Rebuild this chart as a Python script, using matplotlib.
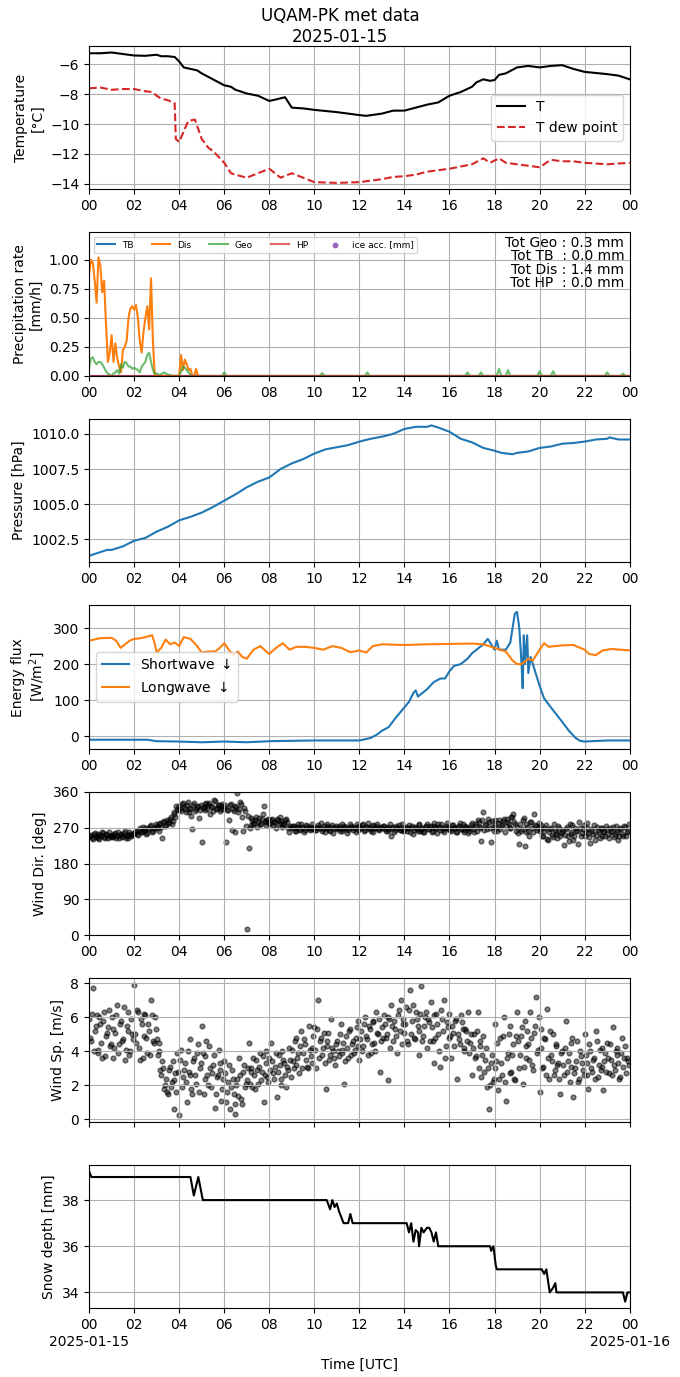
import numpy as np
import matplotlib
matplotlib.use('Agg')
import matplotlib.pyplot as plt

# ---- data (hours since 2025-01-15 00 UTC) ----
temp_t = [0, 0.5, 1.0, 1.5, 2.0, 2.5, 3.0, 3.2, 3.5, 3.8, 4.0, 4.2, 4.5, 4.8, 5.0, 5.5,
          6.0, 6.3, 6.5, 7.0, 7.5, 8.0, 8.3, 8.7, 9.0, 9.5, 10.0, 11.0, 12.0, 12.3, 13.0,
          13.5, 14.0, 14.5, 15.0, 15.5, 16.0, 16.5, 17.0, 17.2, 17.5, 17.8, 18.0, 18.2,
          18.5, 19.0, 19.5, 20.0, 20.5, 21.0, 21.5, 22.0, 23.0, 23.5, 24.0]
temp = [-5.25, -5.25, -5.2, -5.3, -5.4, -5.42, -5.35, -5.45, -5.45, -5.5, -5.8, -6.2,
        -6.3, -6.4, -6.6, -7.0, -7.4, -7.5, -7.7, -7.95, -8.1, -8.45, -8.35, -8.2, -8.9,
        -8.95, -9.05, -9.2, -9.4, -9.45, -9.3, -9.1, -9.1, -8.9, -8.7, -8.55, -8.1, -7.85,
        -7.5, -7.2, -7.0, -7.1, -7.05, -6.7, -6.6, -6.2, -6.1, -6.2, -6.1, -6.05, -6.3,
        -6.5, -6.65, -6.75, -7.0]

dew_t = [0, 0.5, 1.0, 1.5, 2.0, 2.5, 2.8, 3.0, 3.2, 3.5, 3.8, 3.85, 4.0, 4.2, 4.4, 4.7,
         5.0, 5.3, 5.5, 6.0, 6.3, 6.5, 7.0, 7.5, 8.0, 8.5, 9.0, 9.5, 10.0, 11.0, 12.0,
         12.5, 13.0, 13.5, 14.0, 14.5, 15.0, 15.5, 16.0, 16.5, 17.0, 17.5, 17.8, 18.2,
         18.5, 19.0, 19.5, 20.0, 20.5, 21.0, 21.5, 22.0, 23.0, 24.0]
dew = [-7.6, -7.55, -7.7, -7.65, -7.65, -7.8, -7.85, -8.1, -8.3, -8.4, -8.6, -11.0,
       -11.2, -10.5, -9.8, -9.7, -11.0, -11.6, -11.8, -12.6, -13.3, -13.4, -13.6, -13.3,
       -13.0, -13.6, -13.3, -13.6, -13.9, -13.95, -13.9, -13.8, -13.7, -13.55, -13.5,
       -13.4, -13.2, -13.1, -13.0, -12.85, -12.7, -12.3, -12.6, -12.3, -12.6, -12.7,
       -12.8, -12.9, -12.4, -12.5, -12.5, -12.6, -12.7, -12.6]

# precipitation, 5-min steps for the first 5 hours
prec_t = [i * 5 / 60 for i in range(61)]
dis = [0.88, 1.00, 0.97, 0.82, 0.63, 1.02, 0.95, 0.72, 0.82, 0.45, 0.12, 0.20,
       0.35, 0.12, 0.28, 0.15, 0.08, 0.03, 0.22, 0.25, 0.30, 0.50, 0.58, 0.60,
       0.57, 0.61, 0.50, 0.30, 0.20, 0.38, 0.50, 0.60, 0.40, 0.84, 0.30, 0.00,
       0.00, 0.00, 0.00, 0.00, 0.00, 0.00, 0.00, 0.00, 0.00, 0.00, 0.00, 0.00,
       0.00, 0.18, 0.05, 0.14, 0.10, 0.05, 0.06, 0.00, 0.00, 0.06, 0.00, 0.00, 0.00]
geo_early = [0.07, 0.15, 0.16, 0.12, 0.10, 0.12, 0.12, 0.10, 0.07, 0.04, 0.02, 0.01,
             0.00, 0.02, 0.03, 0.05, 0.02, 0.10, 0.07, 0.12, 0.11, 0.08, 0.08, 0.06,
             0.07, 0.06, 0.05, 0.03, 0.08, 0.10, 0.12, 0.18, 0.20, 0.12, 0.05, 0.02,
             0.02, 0.01, 0.01, 0.02, 0.03, 0.02, 0.01, 0.01, 0.00, 0.00, 0.00, 0.00,
             0.00, 0.04, 0.08, 0.07, 0.05, 0.03, 0.01, 0.00, 0.00, 0.00, 0.00, 0.00, 0.00]
geo_late_t = [5.1, 5.9, 6.0, 6.1, 10.25, 10.35, 10.45, 12.25, 12.35, 12.45, 16.7, 16.8,
              16.9, 17.3, 17.4, 17.5, 18.1, 18.2, 18.3, 18.5, 18.6, 18.7, 19.9, 20.0,
              20.1, 20.5, 20.6, 20.7, 22.9, 23.0, 23.1, 23.6, 23.7, 23.8, 24.0]
geo_late = [0.0, 0.0, 0.03, 0.0, 0.0, 0.025, 0.0, 0.0, 0.03, 0.0, 0.0, 0.03,
            0.0, 0.0, 0.03, 0.0, 0.0, 0.06, 0.0, 0.0, 0.05, 0.0, 0.0, 0.04,
            0.0, 0.0, 0.04, 0.0, 0.0, 0.03, 0.0, 0.0, 0.02, 0.0, 0.0]
zero_t = [0, 24]
zero_v = [0.0, 0.0]
ice_t = []
ice_v = []
totals = {'Geo': 0.3, 'TB': 0.0, 'Dis': 1.4, 'HP': 0.0}

pres_t = [0, 0.8, 1.0, 1.5, 2.0, 2.5, 3.0, 3.5, 4.0, 4.5, 5.0, 5.5, 6.0, 6.5, 7.0, 7.5,
          8.0, 8.5, 9.0, 9.5, 10.0, 10.5, 11.0, 11.5, 12.0, 12.5, 13.0, 13.5, 14.0,
          14.5, 15.0, 15.2, 15.5, 16.0, 16.5, 17.0, 17.5, 18.0, 18.3, 18.8, 19.0, 19.5,
          20.0, 20.5, 21.0, 21.5, 22.0, 22.5, 23.0, 23.1, 23.5, 24.0]
pres = [1001.33, 1001.75, 1001.75, 1002.0, 1002.4, 1002.6, 1003.05, 1003.4, 1003.85,
        1004.1, 1004.4, 1004.8, 1005.25, 1005.7, 1006.2, 1006.6, 1006.9, 1007.5,
        1007.9, 1008.2, 1008.6, 1008.9, 1009.05, 1009.2, 1009.45, 1009.65, 1009.8,
        1010.0, 1010.35, 1010.5, 1010.5, 1010.6, 1010.45, 1010.15, 1009.65, 1009.4,
        1009.0, 1008.8, 1008.65, 1008.55, 1008.65, 1008.75, 1009.0, 1009.1, 1009.3,
        1009.35, 1009.45, 1009.6, 1009.65, 1009.75, 1009.6, 1009.6]

sw_t = [0, 2.0, 2.6, 3.0, 4.0, 5.0, 6.0, 7.0, 8.0, 10.0, 12.0, 12.5, 12.8, 13.0, 13.3,
        13.6, 14.0, 14.2, 14.4, 14.5, 14.6, 15.0, 15.3, 15.6, 15.8, 16.0, 16.2, 16.5,
        16.8, 17.0, 17.3, 17.5, 17.7, 17.9, 18.0, 18.1, 18.2, 18.5, 18.7, 18.9, 19.0,
        19.1, 19.2, 19.25, 19.3, 19.35, 19.45, 19.5, 19.6, 19.8, 20.0, 20.2, 20.5,
        21.0, 21.3, 21.6, 21.8, 22.0, 23.0, 24.0]
sw = [-10, -10, -10, -14, -15, -17, -15, -17, -14, -12, -12, -5, 5, 15, 25, 50, 80, 95,
      120, 127, 110, 130, 150, 160, 160, 180, 195, 200, 215, 230, 245, 255, 270, 250,
      240, 265, 240, 240, 260, 340, 345, 300, 200, 133, 280, 200, 280, 175, 220, 180,
      140, 105, 80, 40, 15, -5, -13, -15, -12, -12]

lw_t = [0, 0.5, 1.0, 1.2, 1.4, 1.6, 1.8, 2.0, 2.3, 2.5, 2.8, 2.9, 3.0, 3.2, 3.4, 3.6,
        3.8, 4.0, 4.2, 4.5, 4.8, 5.0, 5.3, 5.6, 5.8, 6.0, 6.2, 6.4, 6.6, 6.8, 7.0, 7.3,
        7.6, 8.0, 8.3, 8.6, 8.9, 9.2, 9.6, 10.0, 10.4, 10.8, 11.2, 11.6, 12.0, 12.3,
        12.6, 13.0, 14.0, 15.0, 16.0, 17.0, 17.5, 18.0, 18.5, 18.8, 19.0, 19.2, 19.5,
        19.7, 20.0, 20.2, 20.4, 21.0, 21.5, 22.0, 22.2, 22.5, 22.8, 23.2, 23.6, 24.0]
lw = [265, 272, 273, 265, 245, 255, 265, 270, 272, 275, 280, 260, 232, 245, 268, 255,
      260, 250, 275, 270, 250, 232, 235, 235, 245, 258, 240, 225, 235, 220, 215, 240,
      250, 228, 245, 258, 240, 248, 248, 245, 240, 250, 245, 233, 238, 232, 250, 255,
      253, 255, 256, 257, 255, 245, 235, 210, 200, 200, 215, 210, 240, 258, 248, 252,
      253, 240, 228, 225, 238, 242, 240, 238]

# wind, 5-min samples (one row per hour) plus a second set offset by 2.5 min
wind_dir = [
    248, 252, 241, 256, 249, 245, 251, 258, 247, 253, 244, 250,
    252, 246, 257, 249, 243, 255, 250, 262, 248, 245, 253, 251,
    256, 262, 251, 268, 259, 264, 270, 257, 266, 276, 262, 268,
    274, 262, 282, 245, 286, 276, 283, 292, 279, 305, 296, 318,
    325, 312, 333, 318, 327, 309, 320, 266, 331, 316, 324, 314,
    235, 322, 329, 317, 331, 325, 312, 336, 320, 327, 318, 330,
    322, 235, 314, 328, 265, 311, 324, 358, 318, 330, 262, 312,
    15, 220, 276, 290, 282, 297, 285, 279, 292, 325, 283, 288,
    282, 290, 276, 284, 293, 278, 286, 272, 280, 292, 268, 275,
    268, 274, 262, 271, 266, 278, 270, 264, 275, 268, 272, 266,
    270, 265, 276, 268, 262, 273, 269, 278, 264, 271, 257, 270,
    266, 273, 268, 262, 275, 270, 264, 279, 268, 272, 260, 271,
    274, 268, 279, 265, 272, 270, 262, 276, 268, 273, 266, 270,
    268, 275, 262, 271, 266, 250, 272, 265, 269, 276, 263, 270,
    264, 271, 268, 258, 273, 265, 270, 262, 276, 267, 260, 272,
    280, 266, 271, 262, 274, 268, 279, 264, 270, 258, 273, 268,
    270, 262, 276, 268, 258, 273, 266, 279, 264, 271, 256, 268,
    282, 260, 275, 290, 268, 236, 310, 276, 266, 284, 235, 272,
    288, 270, 282, 266, 279, 292, 275, 285, 268, 298, 305, 280,
    272, 230, 262, 290, 224, 278, 262, 285, 268, 305, 274, 270,
    262, 276, 250, 268, 242, 258, 270, 246, 265, 255, 274, 248,
    258, 226, 266, 248, 280, 254, 240, 268, 262, 284, 250, 266,
    248, 270, 256, 232, 262, 276, 252, 265, 244, 268, 258, 250,
    266, 245, 260, 272, 252, 263, 240, 268, 255, 274, 250, 262,
]
wind_dir_b = [
    250, 244, 255, 247, 253, 242, 249, 256, 245, 251, 259, 246,
    248, 254, 243, 260, 251, 247, 256, 244, 252, 258, 249, 255,
    260, 253, 265, 258, 271, 262, 255, 268, 274, 260, 270, 278,
    268, 278, 272, 284, 275, 290, 282, 298, 287, 310, 325, 315,
    318, 330, 322, 310, 335, 316, 300, 326, 312, 322, 295, 328,
    320, 314, 332, 326, 305, 322, 340, 316, 328, 312, 324, 318,
    326, 314, 290, 330, 318, 260, 322, 310, 335, 296, 320, 275,
    300, 270, 295, 280, 288, 272, 294, 280, 305, 286, 276, 292,
    278, 292, 285, 270, 288, 298, 282, 276, 290, 283, 260, 272,
    274, 262, 268, 280, 265, 272, 260, 276, 270, 263, 278, 268,
    264, 272, 268, 281, 266, 259, 274, 270, 262, 277, 268, 273,
    270, 262, 278, 266, 272, 256, 270, 275, 264, 270, 279, 265,
    268, 276, 262, 272, 282, 266, 274, 260, 270, 279, 264, 272,
    274, 266, 270, 262, 278, 268, 260, 274, 270, 265, 278, 262,
    270, 262, 276, 268, 255, 272, 266, 278, 262, 270, 258, 274,
    266, 274, 260, 282, 268, 256, 272, 278, 263, 270, 282, 266,
    264, 276, 270, 258, 272, 282, 266, 260, 274, 268, 262, 276,
    266, 278, 262, 284, 272, 290, 264, 280, 292, 270, 286, 262,
    276, 262, 290, 274, 286, 258, 292, 280, 270, 296, 285, 262,
    256, 280, 266, 294, 258, 272, 248, 283, 260, 276, 264, 282,
    270, 248, 262, 276, 240, 266, 252, 280, 258, 244, 268, 256,
    264, 252, 272, 236, 260, 276, 248, 262, 230, 270, 256, 276,
    260, 282, 246, 266, 254, 240, 272, 258, 268, 250, 262, 274,
    254, 268, 262, 246, 274, 258, 250, 266, 248, 272, 258, 278,
]
wind_sp = [
    5.9, 4.6, 7.7, 5.2, 6.1, 4.1, 5.6, 3.6, 6.3, 4.9, 5.4, 4.3,
    6.0, 3.6, 5.1, 6.7, 4.4, 5.8, 4.7, 3.5, 5.5, 6.3, 4.0, 5.0,
    7.9, 4.5, 6.3, 3.5, 5.6, 4.9, 6.1, 3.9, 5.2, 7.0, 4.6, 6.0,
    4.7, 4.0, 2.9, 3.4, 1.8, 2.4, 1.5, 3.1, 2.2, 0.6, 2.7, 3.9,
    0.25, 4.1, 2.5, 3.3, 1.0, 2.8, 4.7, 1.5, 3.6, 2.1, 4.4, 3.0,
    5.5, 1.5, 3.7, 2.6, 4.3, 1.9, 3.2, 0.7, 2.5, 4.1, 2.9, 1.8,
    3.4, 1.0, 2.2, 0.6, 2.9, 1.5, 0.3, 2.4, 3.6, 1.2, 2.8, 1.9,
    2.3, 4.5, 3.0, 1.9, 2.6, 3.5, 2.1, 3.9, 2.8, 1.0, 3.3, 2.5,
    3.6, 4.5, 2.7, 3.1, 1.3, 3.8, 2.4, 4.0, 3.3, 1.9, 2.9, 3.5,
    4.1, 3.0, 4.8, 3.6, 2.7, 5.2, 3.9, 4.4, 3.1, 5.5, 3.7, 4.2,
    5.4, 3.0, 7.0, 4.6, 3.8, 5.1, 1.8, 4.3, 3.5, 5.9, 4.0, 3.2,
    4.6, 3.7, 5.6, 4.1, 2.1, 4.9, 3.6, 5.3, 4.4, 3.9, 4.8, 5.8,
    3.5, 5.2, 4.3, 6.0, 4.7, 5.5, 3.9, 5.8, 4.5, 6.3, 5.0, 2.8,
    5.4, 6.1, 4.8, 2.3, 5.9, 6.7, 4.6, 5.3, 3.9, 6.4, 7.0, 5.6,
    5.1, 6.6, 4.4, 7.6, 5.8, 4.8, 6.3, 5.5, 3.8, 7.8, 4.9, 6.0,
    4.2, 5.7, 6.9, 4.6, 3.3, 6.2, 5.0, 3.1, 5.9, 7.0, 4.3, 5.4,
    6.2, 3.6, 5.1, 5.8, 2.4, 4.7, 6.1, 5.3, 4.0, 5.2, 6.3, 4.5,
    2.6, 5.0, 3.7, 6.3, 4.3, 2.5, 4.9, 3.5, 1.9, 0.6, 3.3, 2.2,
    5.6, 3.4, 1.7, 4.8, 2.6, 6.0, 1.1, 3.9, 5.5, 2.8, 4.4, 2.3,
    6.3, 3.0, 4.9, 2.1, 5.8, 3.6, 4.4, 6.3, 3.2, 5.1, 7.2, 4.1,
    1.6, 5.3, 3.1, 4.7, 6.5, 2.4, 3.8, 5.0, 2.9, 4.3, 3.3, 1.5,
    4.0, 2.6, 5.8, 3.4, 2.2, 4.5, 1.3, 3.0, 4.6, 2.4, 3.7, 2.9,
    5.0, 3.3, 1.8, 4.0, 2.8, 3.6, 5.2, 2.5, 4.1, 3.1, 1.7, 3.9,
    4.5, 2.7, 3.5, 5.4, 2.9, 4.2, 3.3, 2.5, 4.8, 3.6, 2.7, 3.4,
]
wind_sp_b = [
    4.8, 6.2, 4.0, 5.5, 3.9, 6.0, 4.5, 5.8, 3.7, 5.1, 6.4, 4.4,
    5.3, 4.2, 6.1, 3.9, 5.6, 4.6, 6.6, 4.1, 5.2, 3.8, 5.9, 4.7,
    5.0, 6.4, 4.2, 5.9, 3.6, 6.2, 4.8, 5.6, 3.8, 6.1, 4.5, 5.3,
    3.8, 4.5, 2.6, 3.0, 2.0, 1.6, 2.9, 1.9, 3.4, 2.3, 1.6, 2.8,
    3.5, 1.9, 2.9, 2.2, 4.0, 2.6, 1.8, 3.4, 2.6, 3.9, 1.6, 3.3,
    3.9, 2.4, 4.6, 2.0, 3.0, 2.7, 3.8, 1.5, 2.6, 3.3, 1.1, 2.4,
    2.7, 1.6, 3.2, 1.9, 2.4, 0.9, 2.0, 1.4, 2.6, 0.9, 3.2, 2.1,
    3.0, 2.1, 2.8, 3.6, 1.8, 2.9, 3.1, 2.3, 3.7, 2.6, 4.0, 2.2,
    2.9, 3.4, 2.4, 3.9, 2.8, 3.2, 2.0, 3.5, 2.6, 3.1, 4.2, 2.5,
    3.4, 4.6, 3.2, 3.9, 4.3, 3.0, 4.7, 3.5, 3.0, 4.1, 3.3, 4.9,
    4.1, 5.3, 3.6, 4.8, 4.2, 3.3, 4.6, 5.1, 3.8, 4.2, 3.6, 4.4,
    4.0, 5.0, 3.9, 4.5, 3.4, 4.2, 5.2, 3.8, 4.6, 4.1, 5.4, 4.3,
    4.7, 4.0, 5.6, 4.9, 3.8, 5.3, 4.4, 5.7, 4.0, 5.1, 5.9, 4.6,
    4.8, 5.6, 5.0, 6.0, 4.2, 5.5, 5.8, 4.9, 6.1, 5.2, 4.4, 5.9,
    5.6, 4.6, 6.4, 5.0, 6.7, 4.7, 5.9, 5.2, 6.2, 4.6, 5.5, 6.3,
    5.9, 4.6, 5.4, 6.1, 4.8, 5.6, 4.0, 6.4, 5.2, 3.6, 5.7, 4.8,
    4.9, 5.5, 4.3, 5.9, 5.0, 4.4, 5.7, 4.2, 5.3, 4.6, 3.9, 5.0,
    4.2, 3.6, 5.2, 3.0, 4.6, 3.8, 2.8, 4.2, 3.0, 2.0, 3.8, 2.4,
    3.0, 4.5, 2.4, 3.3, 4.9, 2.2, 3.6, 5.0, 2.7, 3.8, 2.4, 4.9,
    4.6, 3.8, 5.4, 3.1, 4.3, 5.2, 3.5, 4.8, 2.9, 5.5, 3.9, 6.0,
    4.2, 3.0, 4.8, 2.6, 3.6, 5.2, 3.4, 2.6, 4.4, 3.2, 2.4, 3.9,
    3.2, 4.2, 2.8, 3.9, 3.1, 4.8, 2.7, 3.4, 2.2, 4.0, 3.3, 2.6,
    3.8, 2.6, 4.4, 3.0, 3.5, 2.4, 4.6, 3.2, 2.9, 4.2, 3.4, 2.8,
    3.6, 4.4, 2.6, 3.2, 4.0, 3.8, 2.4, 3.9, 3.1, 4.3, 3.6, 3.2,
]
wind_t = [i * 5 / 60 for i in range(len(wind_dir))]
wind_t_b = [(i * 5 + 2.5) / 60 for i in range(len(wind_dir_b))]

snow_t = [0, 0.1, 4.5, 4.65, 4.85, 5.05, 10.55, 10.7, 10.8, 10.9, 11.0, 11.1, 11.3, 11.5,
          11.6, 11.7, 14.1, 14.2, 14.3, 14.4, 14.5, 14.6, 14.65, 14.75, 14.85, 15.0, 15.1,
          15.2, 15.3, 15.4, 15.5, 17.8, 17.85, 17.95, 18.05, 18.1, 20.1, 20.2, 20.3, 20.45,
          20.6, 20.7, 20.75, 23.7, 23.8, 23.9, 24.0]
snow = [39.25, 39.0, 39.0, 38.2, 39.0, 38.0, 38.0, 37.6, 38.0, 37.7, 37.85, 37.5, 37.0,
        37.0, 37.4, 37.0, 37.0, 36.6, 37.0, 36.2, 36.7, 36.6, 36.0, 36.8, 36.6, 36.8, 36.8,
        36.6, 36.2, 36.6, 36.0, 36.0, 35.8, 36.0, 35.2, 35.0, 35.0, 34.8, 35.0, 34.0, 34.2,
        34.4, 34.0, 34.0, 33.6, 34.0, 34.0]

hour_ticks = list(range(0, 25, 2))
day_labels = ['2025-01-15', '2025-01-16']

# ---- figure ----
fig, axs = plt.subplots(7, 1, figsize=(6.8, 13.77), dpi=100)
fig.subplots_adjust(left=0.131, right=0.926, top=0.9666, bottom=0.050, hspace=0.30)
fig.suptitle('UQAM-PK met data\n2025-01-15', fontsize=12, y=0.995)

ax = axs[0]
ax.plot(temp_t, temp, color='black', label='T')
ax.plot(dew_t, dew, color='#d62728', ls='--', label='T dew point')
ax.set_ylabel('Temperature\n[°C]')
ax.legend(loc='center right')

ax = axs[1]
ax.plot(zero_t, zero_v, color='tab:blue', label='TB')
ax.plot(prec_t, dis, color='tab:orange', label='Dis')
ax.plot(prec_t + geo_late_t, geo_early + geo_late, color='tab:green', alpha=0.7, label='Geo')
ax.plot(zero_t, zero_v, color='tab:red', alpha=0.7, label='HP')
ax.scatter(ice_t, ice_v, color='tab:purple', s=10, label='ice acc. [mm]')
ax.set_ylim(0, 1.235)
ax.set_ylabel('Precipitation rate\n[mm/h]')
ax.legend(loc='upper left', ncol=5, fontsize=6.5)
txt = '\n'.join([f"Tot Geo : {totals['Geo']:.1f} mm",
                 f"Tot TB  : {totals['TB']:.1f} mm",
                 f"Tot Dis : {totals['Dis']:.1f} mm",
                 f"Tot HP  : {totals['HP']:.1f} mm"])
ax.text(0.99, 0.975, txt, transform=ax.transAxes, ha='right', va='top', linespacing=0.95)

ax = axs[2]
ax.plot(pres_t, pres, color='tab:blue')
ax.set_ylabel('Pressure [hPa]')

ax = axs[3]
ax.plot(sw_t, sw, color='tab:blue', label='Shortwave $\\downarrow$')
ax.plot(lw_t, lw, color='tab:orange', label='Longwave $\\downarrow$')
ax.set_ylabel('Energy flux\n[W/m$^2$]')
ax.legend(loc='center left')

ax = axs[4]
ax.scatter(wind_t + wind_t_b, wind_dir + wind_dir_b, color='black', alpha=0.5, s=12)
ax.set_ylim(0, 360)
ax.set_yticks([0, 90, 180, 270, 360])
ax.set_ylabel('Wind Dir. [deg]')

ax = axs[5]
ax.scatter(wind_t + wind_t_b, wind_sp + wind_sp_b, color='black', alpha=0.5, s=12)
ax.set_ylabel('Wind Sp. [m/s]')

ax = axs[6]
ax.plot(snow_t, snow, color='black')
ax.set_ylabel('Snow depth [mm]')
ax.set_xlabel('Time [UTC]', labelpad=19)
for x, lab in zip([0, 24], day_labels):
    ax.annotate(lab, xy=(x, 0), xycoords=('data', 'axes fraction'),
                xytext=(0, -19), textcoords='offset points', ha='center', va='top')

for i, ax in enumerate(axs):
    ax.set_xlim(0, 24)
    ax.set_xticks(hour_ticks)
    labels = ['%02d' % (h % 24) for h in hour_ticks]
    if i == 5:
        labels = ['' for h in hour_ticks]
    ax.set_xticklabels(labels)
    ax.grid(True)

plt.savefig('out.png', dpi=100)
